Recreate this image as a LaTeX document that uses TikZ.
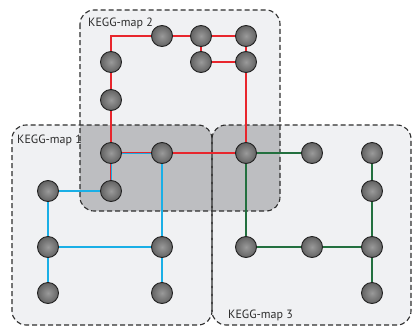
\documentclass[tikz,border=0pt]{standalone}
\usepackage{fontspec}
\setmainfont{PT Sans}
\definecolor{lightfill}{HTML}{F0F1F3}
\definecolor{overlap}{HTML}{BDBEC1}
\definecolor{borderc}{HTML}{2E2E2E}
\definecolor{redl}{HTML}{E8262D}
\definecolor{bluel}{HTML}{1AAFE6}
\definecolor{greenl}{HTML}{23703F}
\definecolor{ballin}{HTML}{9A9A9A}
\definecolor{ballmid}{HTML}{727272}
\definecolor{ballout}{HTML}{3E3E3E}
\definecolor{ballrim}{HTML}{222222}
\pgfdeclareradialshading{nodeball}{\pgfpoint{0bp}{0bp}}{color(0bp)=(ballin); color(18bp)=(ballmid); color(42bp)=(ballout); color(50bp)=(ballout)}
\pgfdeclarelayer{background}
\pgfsetlayers{background,main}
\tikzset{
  ball/.style={circle, minimum size=21pt, inner sep=0pt, draw=ballrim, line width=0.9pt, shading=nodeball},
  mapbox/.style={draw=borderc, line width=1.1pt, dash pattern=on 5pt off 3pt, rounded corners=14pt},
  redw/.style={draw=redl, line width=1.3pt},
  bluew/.style={draw=bluel, line width=1.3pt},
  greenw/.style={draw=greenl, line width=1.3pt},
  maplabel/.style={font=\fontsize{12}{14}\selectfont, text=borderc, inner sep=0pt, anchor=base west}
}
\begin{document}
\begin{tikzpicture}[x=1pt,y=-1pt]
\useasboundingbox (0,0) rectangle (412,327);
% nodes (map 2)
\coordinate (c0) at (111,36);
\node[ball] (a1) at (162,36) {};
\node[ball] (a2) at (201,36) {};
\node[ball] (a3) at (246,36) {};
\node[ball] (a4) at (201,62) {};
\node[ball] (a5) at (246,62) {};
\node[ball] (a6) at (111,62) {};
\node[ball] (a7) at (111,100) {};
\node[ball] (s1) at (111,153) {};
\node[ball] (s2) at (162,153) {};
\node[ball] (s3) at (246,153) {};
\node[ball] (s4) at (111,191) {};
% map 1
\node[ball] (b1) at (48,191) {};
\node[ball] (b2) at (48,247) {};
\node[ball] (b3) at (48,293) {};
\node[ball] (b4) at (162,247) {};
\node[ball] (b5) at (162,293) {};
% map 3
\node[ball] (g1) at (312,153) {};
\node[ball] (g2) at (372,153) {};
\node[ball] (g3) at (372,191) {};
\node[ball] (g4) at (246,247) {};
\node[ball] (g5) at (312,247) {};
\node[ball] (g6) at (372,247) {};
\node[ball] (g7) at (372,293) {};
\begin{pgfonlayer}{background}
\fill[white] (0,0) rectangle (412,327);
% map areas
\fill[lightfill, rounded corners=14pt] (80,10) rectangle (280,211);
\fill[lightfill, rounded corners=14pt] (12,125) rectangle (212,325);
\fill[lightfill, rounded corners=14pt] (212,125) rectangle (411,325);
\begin{scope}
  \clip[rounded corners=14pt] (80,10) rectangle (280,211);
  \fill[overlap, rounded corners=14pt] (12,125) rectangle (212,325);
  \fill[overlap, rounded corners=14pt] (212,125) rectangle (411,325);
\end{scope}
\draw[mapbox] (80,10) rectangle (280,211);
\draw[mapbox] (12,125) rectangle (212,325);
\draw[mapbox] (212,125) rectangle (411,325);
% blue pathway
\draw[bluew] ([yshift=-0.75pt]s1.center) -- ([yshift=-0.75pt]s2.center);
\draw[bluew] ([xshift=0.75pt]s1.center) -- ([xshift=0.75pt]s4.center);
\draw[bluew] (s4.center) -- (b1.center) -- (b2.center) -- (b3.center);
\draw[bluew] (s2.center) -- (b4.center) -- (b5.center);
\draw[bluew] (b2.center) -- (b4.center);
% red pathway
\draw[redw] (a7.center) -- (a6.center) -- (c0) -- (a1.center) -- (a2.center) -- (a3.center) -- (a5.center) -- (s3.center) -- (s2.center);
\draw[redw] (a7.center) -- (s1.center);
\draw[redw] (a2.center) -- (a4.center) -- (a5.center);
\draw[redw] ([yshift=0.75pt]s1.center) -- ([yshift=0.75pt]s2.center);
\draw[redw] ([xshift=-0.75pt]s1.center) -- ([xshift=-0.75pt]s4.center);
% green pathway
\draw[greenw] (g1.center) -- (s3.center) -- (g4.center) -- (g5.center) -- (g6.center);
\draw[greenw] (g2.center) -- (g3.center) -- (g6.center) -- (g7.center);
\end{pgfonlayer}
% labels
\node[maplabel] (l2) at (88,26) {KEGG-map 2};
\node[maplabel] (l1) at (17,143) {KEGG-map 1};
\node[maplabel] (l3) at (228,318) {KEGG-map 3};
\end{tikzpicture}
\end{document}
